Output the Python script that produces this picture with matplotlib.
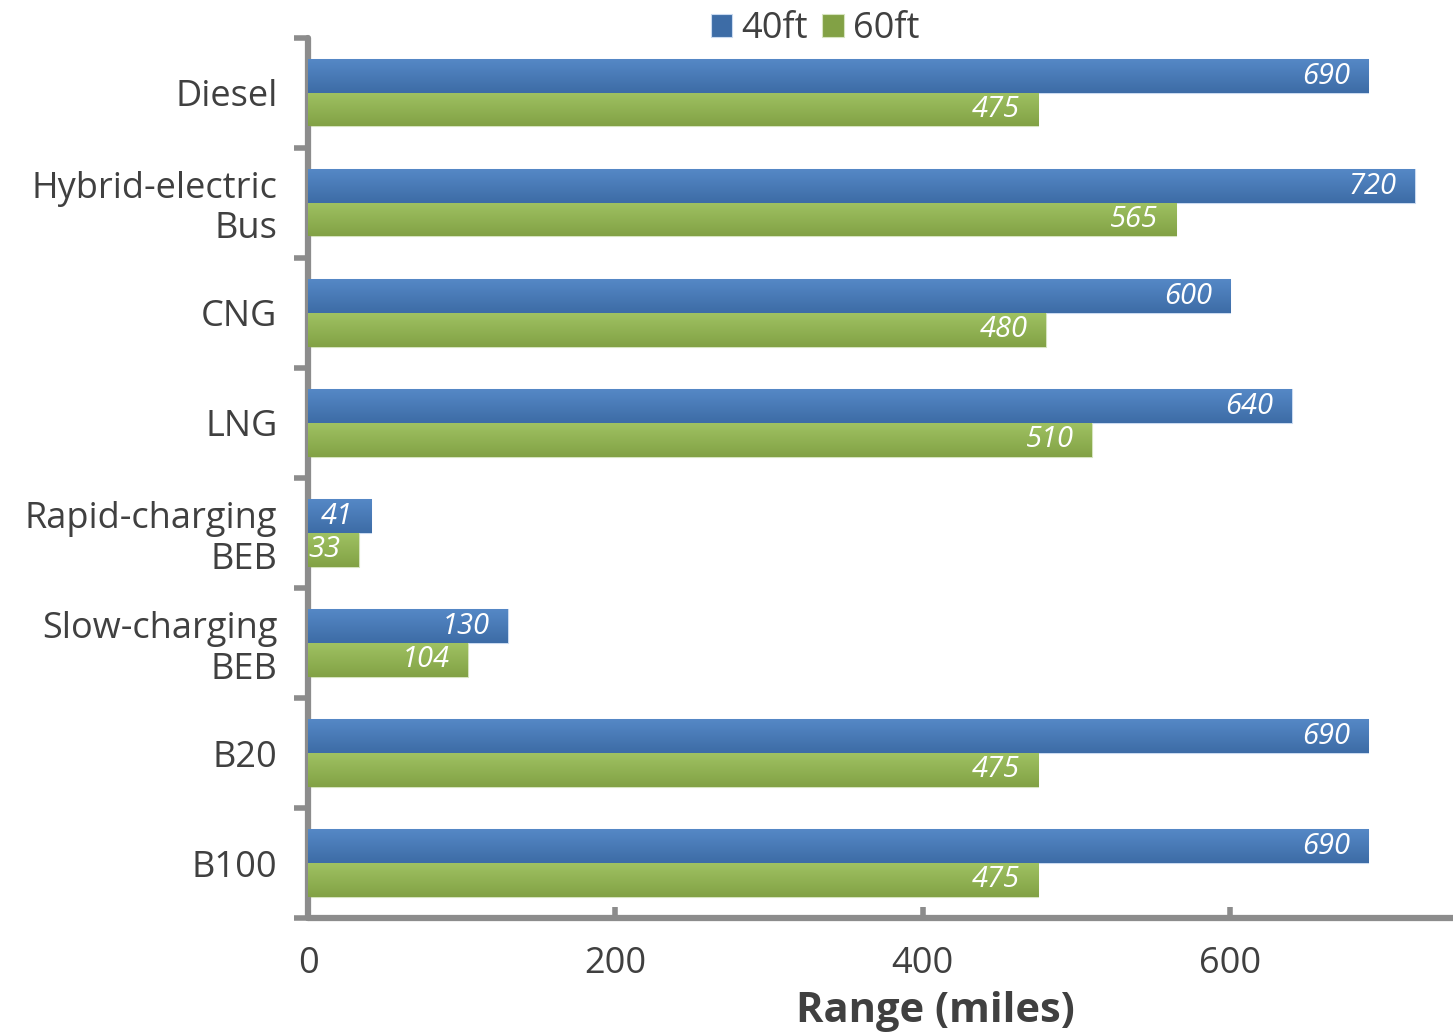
import numpy as np
import matplotlib.pyplot as plt
from matplotlib.colors import LinearSegmentedColormap

plt.rcParams['font.family'] = ['Open Sans', 'DejaVu Sans']

categories = ["Diesel", "Hybrid-electric\nBus", "CNG", "LNG",
              "Rapid-charging\nBEB", "Slow-charging\nBEB", "B20", "B100"]
range_40ft = [690, 720, 600, 640, 41, 130, 690, 690]
range_60ft = [475, 565, 480, 510, 33, 104, 475, 475]

blue_top, blue_bot = "#5588c6", "#3d6ca6"
green_top, green_bot = "#9fc262", "#82a145"
grey = "#8c8c8c"
text_col = "#404040"

fig = plt.figure(figsize=(14.53, 10.33), dpi=100)
ax = fig.add_axes([0.212, 0.1113, 0.788, 0.852])

y = np.arange(len(categories))
h = 0.305
b40 = ax.barh(y - h / 2, range_40ft, height=h, color=blue_bot, label="40ft", zorder=2)
b60 = ax.barh(y + h / 2, range_60ft, height=h, color=green_bot, label="60ft", zorder=2)


def shade(bars, top, bot, edge):
    # vertical gradient clipped to each bar
    cmap = LinearSegmentedColormap.from_list("g", [top, bot])
    grad = np.linspace(0, 1, 64).reshape(-1, 1)
    for p in bars:
        x0, y0 = p.get_x(), p.get_y()
        w, hh = p.get_width(), p.get_height()
        im = ax.imshow(grad, cmap=cmap, aspect="auto", origin="upper",
                       extent=[x0, x0 + w, y0 + hh, y0], zorder=3)
        im.set_clip_path(p)
        p.set_edgecolor(edge)
        p.set_linewidth(0.8)


shade(b40, blue_top, blue_bot, "#c9daf0")
shade(b60, green_top, green_bot, "#d6e4bf")
ax.set_xlim(0, 745)
ax.set_ylim(len(categories) - 0.5, -0.5)

for bars, vals in ((b40, range_40ft), (b60, range_60ft)):
    for p, v in zip(bars, vals):
        ax.annotate(str(v), (v, p.get_y() + p.get_height() / 2),
                    xytext=(-13, 0), textcoords="offset points",
                    ha="right", va="center", color="white",
                    fontsize=21, style="italic", zorder=5)

for s in ("top", "right"):
    ax.spines[s].set_visible(False)
for s in ("left", "bottom"):
    ax.spines[s].set_color(grey)
    ax.spines[s].set_linewidth(4.5)
    ax.spines[s].set_capstyle("round")

ax.set_xticks([0, 200, 400, 600])
ax.tick_params(axis="x", direction="in", length=8, width=4, color=grey,
               labelsize=26, labelcolor=text_col, pad=20)
ax.set_yticks(y)
ax.set_yticklabels(categories)
ax.tick_params(axis="y", length=0, labelsize=26, labelcolor=text_col, pad=22)
for t in ax.get_yticklabels():
    t.set_multialignment("right")
    t.set_linespacing(1.15)
ax.set_yticks(np.arange(-0.5, len(categories)), minor=True)
ax.tick_params(axis="y", which="minor", direction="out", length=10, width=4, color=grey)

ax.set_xlabel("Range (miles)", fontsize=30, fontweight="bold", color=text_col)
ax.xaxis.set_label_coords(0.548, -0.083)

fig.legend(handles=[b40, b60], loc="center", bbox_to_anchor=(0.561, 0.972), ncol=2,
           frameon=False, fontsize=26, handlelength=0.6, handleheight=0.6,
           handletextpad=0.25, columnspacing=0.4, labelcolor=text_col,
           borderpad=0)

fig.savefig("out.png", dpi=100)
